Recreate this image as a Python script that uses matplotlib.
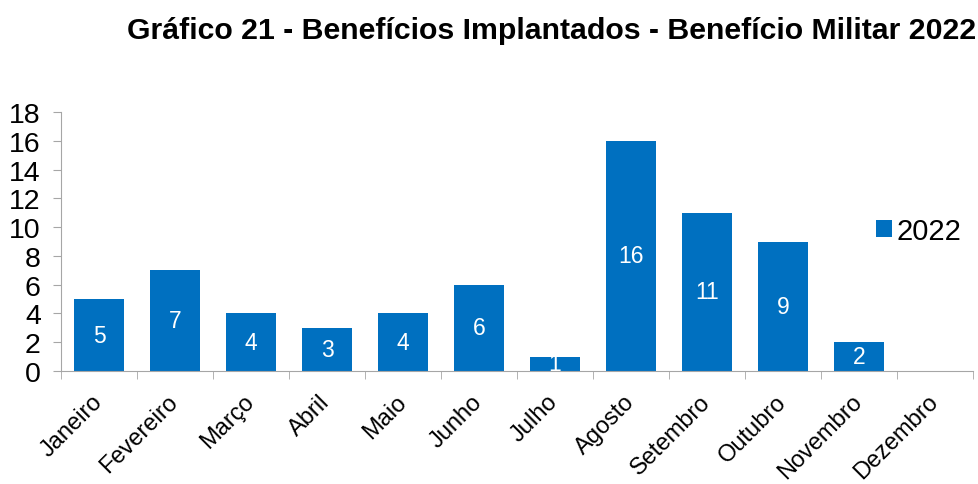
import matplotlib.pyplot as plt
import matplotlib.transforms as mtransforms
import numpy as np

plt.rcParams['font.family'] = ['Liberation Sans', 'DejaVu Sans']

AZUL = "#0070C0"
CINZA = "#A6A6A6"

meses = ['Janeiro', 'Fevereiro', 'Março', 'Abril', 'Maio', 'Junho',
         'Julho', 'Agosto', 'Setembro', 'Outubro', 'Novembro', 'Dezembro']
valores = [5, 7, 4, 3, 4, 6, 1, 16, 11, 9, 2, 0]
serie = '2022'

fig = plt.figure(figsize=(9.79, 4.85), dpi=100)
ax = fig.add_axes([0.0623, 0.233, 0.9316, 0.534])

x = np.arange(len(meses))
barras = ax.bar(x, valores, width=0.66, color=AZUL, label=serie)

for xi, v in zip(x, valores):
    if v > 0:
        ax.text(xi, v / 2, str(v), ha='center', va='center',
                color='white', fontsize=16.5)

ax.set_xlim(-0.5, len(meses) - 0.5)
ax.set_ylim(0, 18)
ax.set_yticks(range(0, 19, 2))
ax.tick_params(axis='y', labelsize=20.5, length=6, color=CINZA, pad=8.5)

ax.set_xticks(x)
ax.set_xticklabels(meses, rotation=45, ha='right', rotation_mode='anchor', fontsize=17)
ax.tick_params(axis='x', length=0, pad=14)
desloc = mtransforms.ScaledTranslation(-8 / 100, 0, fig.dpi_scale_trans)
for lbl in ax.get_xticklabels():
    lbl.set_transform(lbl.get_transform() + desloc)
ax.set_xticks(np.arange(-0.5, len(meses), 1), minor=True)
ax.tick_params(axis='x', which='minor', length=6, color=CINZA)

for lado in ['top', 'right']:
    ax.spines[lado].set_visible(False)
for lado in ['left', 'bottom']:
    ax.spines[lado].set_color(CINZA)

fig.suptitle('Gráfico 21 - Benefícios Implantados - Benefício Militar 2022',
             x=0.563, y=0.965, fontsize=21.8, fontweight='bold')

ax.legend(loc='center left', bbox_to_anchor=(0.895, 0.522), bbox_transform=fig.transFigure,
          frameon=False, fontsize=21, handlelength=0.55, handleheight=0.55,
          handletextpad=0.15, borderpad=0, borderaxespad=0)

fig.savefig('out.png', dpi=100)
